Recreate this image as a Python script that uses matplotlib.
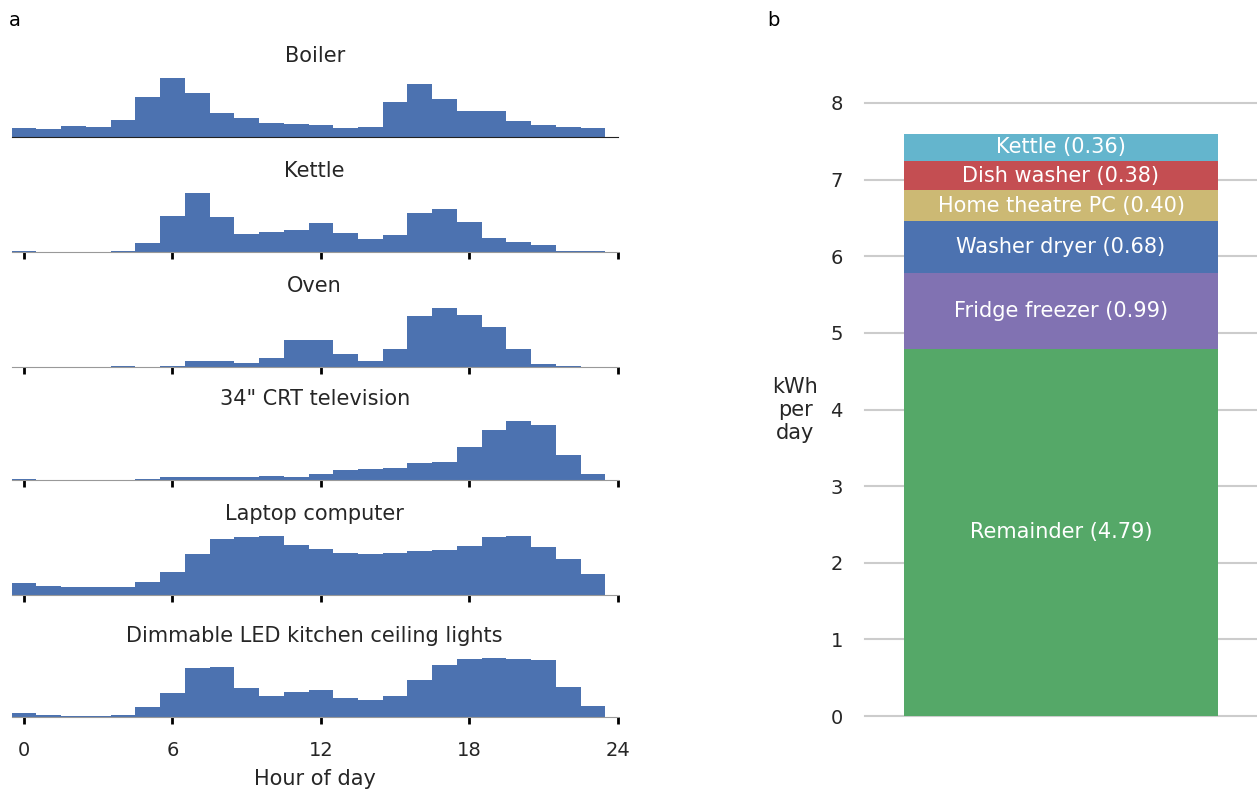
import numpy as np
import matplotlib.pyplot as plt

plt.rcParams['font.family'] = ['DejaVu Sans']

hours = np.arange(24)

# relative usage per hour of day (arbitrary units)
boiler = [27, 24, 33, 30, 51, 117, 174, 129, 72, 57, 42, 39, 36, 27, 30, 102, 156, 111, 78, 78, 48, 36, 30, 27]
kettle = [4, 1, 1, 1, 4, 25, 106, 172, 103, 52, 58, 64, 85, 55, 37, 49, 115, 124, 88, 40, 28, 19, 4, 4]
oven = [0, 0, 0, 0, 2, 0, 2, 20, 20, 14, 29, 86, 86, 41, 20, 56, 164, 188, 167, 128, 56, 11, 2, 0]
crt_tv = [3, 1, 1, 1, 1, 3, 9, 9, 9, 9, 12, 9, 18, 30, 33, 36, 51, 54, 102, 153, 180, 168, 75, 18]
laptop = [34, 25, 22, 22, 22, 37, 64, 115, 157, 163, 166, 142, 130, 118, 115, 118, 124, 127, 139, 163, 166, 136, 100, 58]
led_lights = [13, 7, 4, 4, 7, 31, 76, 154, 157, 91, 67, 79, 85, 58, 52, 67, 115, 163, 181, 184, 181, 178, 94, 34]

panel_titles = ["Boiler", "Kettle", "Oven", '34" CRT television',
                "Laptop computer", "Dimmable LED kitchen ceiling lights"]
panel_data = [boiler, kettle, oven, crt_tv, laptop, led_lights]

# stacked bar, bottom to top
appliances = ["Remainder", "Fridge freezer", "Washer dryer",
              "Home theatre PC", "Dish washer", "Kettle"]
kwh_per_day = [4.79, 0.99, 0.68, 0.40, 0.38, 0.36]
bar_colors = ["#55A868", "#8172B2", "#4C72B0", "#CCB974", "#C44E52", "#64B5CD"]

W, H = 1257, 797
fig = plt.figure(figsize=(W / 100, H / 100), dpi=100)

baselines = [137, 252, 367, 480, 595, 717]
ax_h = 75
x_left, x_right = 11.7, 617.7
for i, (title, vals) in enumerate(zip(panel_titles, panel_data)):
    b = baselines[i]
    ax = fig.add_axes([x_left / W, 1 - b / H, (x_right - x_left) / W, ax_h / H])
    ax.bar(hours, vals, width=1.0, color="#4C72B0", linewidth=0, zorder=1)
    ax.set_xlim(-0.5, 24)
    ax.set_ylim(0, max(vals) * ax_h / 59)
    ax.set_title(title, fontsize=15, color="#262626", pad=0, y=1.0)
    for s in ["top", "right", "left"]:
        ax.spines[s].set_visible(False)
    ax.spines["bottom"].set_zorder(3)
    ax.set_yticks([])
    ax.set_xticks([0, 6, 12, 18, 24])
    if i == 0:
        ax.spines["bottom"].set_color("#222222")
        ax.tick_params(axis="x", length=0, labelbottom=False)
    else:
        ax.spines["bottom"].set_color("#999999")
        ax.tick_params(axis="x", direction="out", length=5, width=2, color="black")
        if i < 5:
            ax.tick_params(labelbottom=False)
        else:
            ax.tick_params(labelsize=14, labelcolor="#262626", pad=12)
            ax.set_xlabel("Hour of day", fontsize=15, color="#262626", labelpad=7)
    ax.patch.set_alpha(0)

# right panel: stacked bar
bx = fig.add_axes([865 / W, 1 - 716 / H, (W - 865) / W, (716 - 103) / H])
bottom = 0
for name, v, c in zip(appliances, kwh_per_day, bar_colors):
    bx.bar(0, v, width=0.8, bottom=bottom, color=c, linewidth=0, zorder=2)
    bx.text(0, bottom + v / 2, f"{name} ({v:.2f})", ha="center", va="center",
            color="white", fontsize=15, zorder=3)
    bottom += v
bx.set_xlim(-0.5, 0.5)
bx.set_ylim(0, 8)
bx.set_yticks(range(9))
bx.set_xticks([])
bx.grid(axis="y", color="#cccccc", linewidth=1.5, zorder=0)
bx.set_axisbelow(True)
for s in bx.spines.values():
    s.set_visible(False)
bx.tick_params(axis="y", length=0, labelsize=14, labelcolor="#262626", pad=16)
for gl in bx.get_ygridlines():
    gl.set_clip_on(False)

fig.text(795 / W, 1 - 410 / H, "kWh\nper\nday", ha="center", va="center",
         fontsize=15, color="#262626", linespacing=1.2)

fig.text(15 / W, 1 - 20 / H, "a", ha="center", va="center", fontsize=14)
fig.text(773 / W, 1 - 20 / H, "b", ha="center", va="center", fontsize=14)

fig.savefig("out.png", dpi=100)
